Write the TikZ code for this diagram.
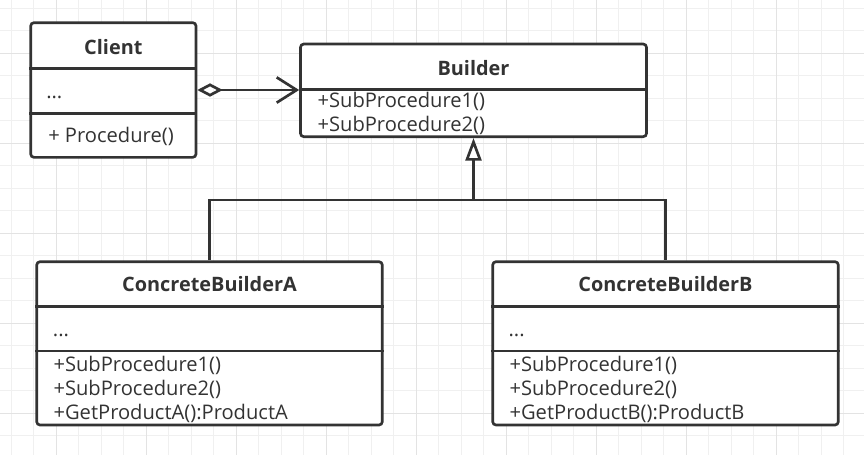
\documentclass[tikz,border=0pt]{standalone}
\usepackage{fontspec}
\setmainfont{Open Sans}
\usetikzlibrary{arrows.meta}
\definecolor{ink}{HTML}{333333}
\definecolor{gridminor}{HTML}{F0F0F0}
\definecolor{gridmajor}{HTML}{E3E3E3}
\begin{document}
\begin{tikzpicture}[x=0.75pt,y=-0.75pt,
  classbox/.style={draw=ink, line width=2pt, rounded corners=2.5pt, inner sep=0pt, fill=white},
  title/.style={font=\fontsize{14.9}{17}\selectfont\bfseries, text=ink, inner sep=0pt},
  member/.style={font=\fontsize{15.1}{17}\selectfont, text=ink, inner sep=0pt, anchor=west},
  divider/.style={draw=ink, line width=2pt},
  connector/.style={draw=ink, line width=2pt}]
\useasboundingbox (0,0) rectangle (864,455);
\fill[white] (0,0) rectangle (864,455);
% grid
\foreach \i in {0,...,38} \draw[gridminor, line width=0.75pt] ({11+22.5*\i},0) -- ++(0,455);
\foreach \j in {0,...,20} \draw[gridminor, line width=0.75pt] (0,{8.3+22.5*\j}) -- ++(864,0);
\foreach \i in {0,...,8} \draw[gridmajor, line width=0.75pt] ({56+90*\i},0) -- ++(0,455);
\foreach \j in {0,...,4} \draw[gridmajor, line width=0.75pt] (0,{53.3+90*\j}) -- ++(864,0);

% Client
\node[classbox, minimum width=124pt, minimum height=101pt] (client) at (113.35,90) {};
\draw[divider] (client.west |- 0,68.3) -- (client.east |- 0,68.3);
\draw[divider] (client.west |- 0,113.3) -- (client.east |- 0,113.3);
\node[title] (clientT) at (113.35,46.7) {Client};
\node[member] (clientA) at (46,97.5) {...};
\node[member] (clientM) at (48,136.7) {+ Procedure()};

% Builder
\node[classbox, minimum width=259.5pt, minimum height=69.5pt] (builder) at (473.5,90.35) {};
\draw[divider] (builder.west |- 0,89.3) -- (builder.east |- 0,89.3);
\node[title] (builderT) at (473.5,68.3) {Builder};
\node[member] (builderM1) at (317.3,101) {+SubProcedure1()};
\node[member] (builderM2) at (317.3,125.5) {+SubProcedure2()};

% ConcreteBuilderA
\node[classbox, minimum width=259.2pt, minimum height=122.5pt] (cba) at (209.5,343.35) {};
\draw[divider] (cba.west |- 0,306.3) -- (cba.east |- 0,306.3);
\draw[divider] (cba.west |- 0,351) -- (cba.east |- 0,351);
\node[title] (cbaT) at (209.5,284.3) {ConcreteBuilderA};
\node[member] (cbaA) at (52.7,335.5) {...};
\node[member] (cbaM1) at (53.3,365) {+SubProcedure1()};
\node[member] (cbaM2) at (53.3,389.3) {+SubProcedure2()};
\node[member] (cbaM3) at (53.3,413.3) {+GetProductA():ProductA};

% ConcreteBuilderB
\node[classbox, minimum width=259.2pt, minimum height=122.5pt] (cbb) at (665.5,343.35) {};
\draw[divider] (cbb.west |- 0,306.3) -- (cbb.east |- 0,306.3);
\draw[divider] (cbb.west |- 0,351) -- (cbb.east |- 0,351);
\node[title] (cbbT) at (665.5,284.3) {ConcreteBuilderB};
\node[member] (cbbA) at (508.3,335.5) {...};
\node[member] (cbbM1) at (509.3,365) {+SubProcedure1()};
\node[member] (cbbM2) at (509.3,389.3) {+SubProcedure2()};
\node[member] (cbbM3) at (509.3,413.3) {+GetProductB():ProductB};

% aggregation
\draw[connector, {Diamond[open, length=19pt, width=10pt]}-{Straight Barb[length=15pt, width=19pt]}]
  (client.east) -- (client.east -| builder.west);

% inheritance
\coordinate (join) at (473.5,200);
\draw[connector] (cba.north) |- (join) -| (cbb.north);
\draw[connector, -{Triangle[open, length=17pt, width=12pt]}] (join) -- (builder.south);
\end{tikzpicture}
\end{document}
